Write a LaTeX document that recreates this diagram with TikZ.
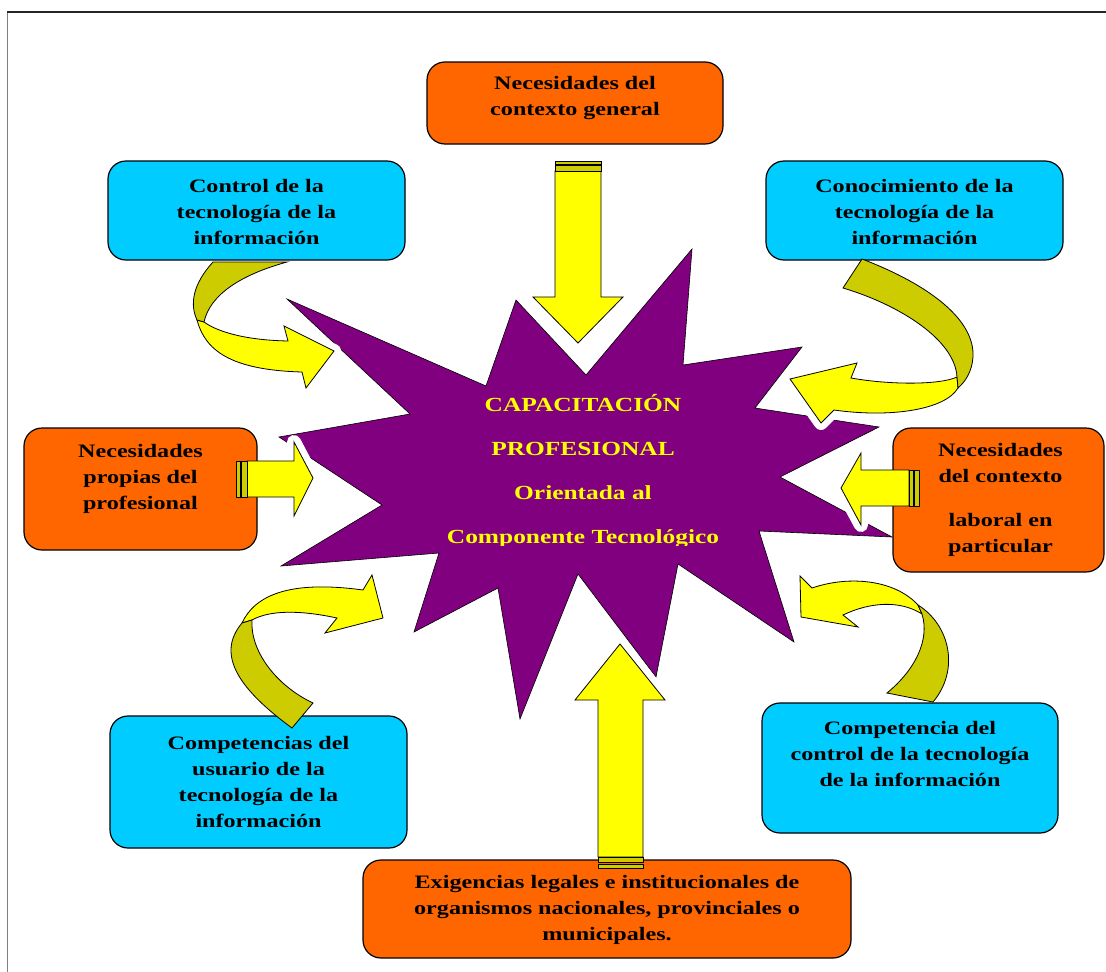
\documentclass[tikz,border=0pt]{standalone}
\usepackage{fontspec}
\setmainfont{Liberation Serif}[FakeStretch=1.27]
\usetikzlibrary{positioning,calc}
\definecolor{naranja}{HTML}{FF6600}
\definecolor{celeste}{HTML}{00CCFF}
\definecolor{morado}{HTML}{800080}
\definecolor{amarillo}{HTML}{FFFF00}
\definecolor{oliva}{HTML}{CCCC00}

\tikzset{
  caja/.style={draw=black, line width=1.2pt, rounded corners=18pt, inner sep=0pt},
  texto/.style={align=center, font=\bfseries\fontsize{19}{26}\selectfont},
  halo/.style={draw=white, line width=14pt, line join=round},
  flecha/.style={fill=amarillo, draw=black, line width=0.8pt},
  cinta/.style={fill=oliva, draw=black, line width=0.8pt},
}

\begin{document}
\begin{tikzpicture}[x=1pt, y=-1pt]
  \useasboundingbox (0,0) rectangle (1106,972);
  \draw[gray, line width=1pt] (7,12) -- (7,972);
  \draw[black!85, line width=1.2pt] (7,12) -- (1106,12);

  % estrella central
  \fill[morado, draw=black, line width=0.6pt] (287,299) -- (486,386) -- (516,300) -- (586,375)
    -- (692,249) -- (683,365) -- (802,347) -- (755,408) -- (879,427) -- (780,477)
    -- (892,537) -- (759,531) -- (794,642) -- (678,564) -- (656,677) -- (578,574)
    -- (520,719) -- (498,588) -- (414,632) -- (439,553) -- (281,566) -- (382,505)
    -- (279,437) -- (410,414) -- cycle;
  \begin{scope}
    \clip (300,370) rectangle (880,545);
    \node[texto, text=amarillo, font=\bfseries\fontsize{20}{44}\selectfont] (centro) at (583,471)
      {CAPACITACIÓN\\PROFESIONAL\\Orientada al\\Componente Tecnológico};
  \end{scope}

  % flechas
  \path[save path=\fAbajo] (555,171) -- (555,297) -- (533,297) -- (578,343) -- (623,297)
    -- (601,297) -- (601,171) -- cycle;
  \path[save path=\fArriba] (598,857) -- (598,700) -- (575,700) -- (620,644) -- (665,700)
    -- (643,700) -- (643,857) -- cycle;
  \path[save path=\fIzq] (247,461) -- (294,461) -- (294,442) -- (313,478) -- (294,516)
    -- (294,497) -- (247,497) -- cycle;
  \path[save path=\fDer] (909,470) -- (861,470) -- (861,453) -- (841,488) -- (861,525)
    -- (861,506) -- (909,506) -- cycle;
  \path[save path=\cA] (213,262) .. controls (192,285) and (190,305) .. (197,320) -- (204,322)
    .. controls (210,295) and (240,275) .. (287,262) -- cycle;
  \path[save path=\fA] (197,320) .. controls (205,350) and (230,370) .. (302,372) -- (306,388)
    -- (334,351) -- (284,326) -- (288,341) .. controls (240,340) and (215,330) .. (204,322) -- cycle;
  \path[save path=\cB] (862,259) .. controls (930,285) and (975,320) .. (973,357)
    .. controls (972,372) and (965,382) .. (958,388) -- (957,377)
    .. controls (955,340) and (900,305) .. (843,288) -- cycle;
  \path[save path=\fB] (958,388) .. controls (945,410) and (890,418) .. (834,410) -- (821,423)
    -- (790,379) -- (857,363) -- (851,378) .. controls (890,385) and (940,385) .. (957,377) -- cycle;
  \path[save path=\cC] (292,728) .. controls (240,690) and (215,655) .. (242,623) -- (252,620)
    .. controls (250,650) and (275,685) .. (313,703) -- cycle;
  \path[save path=\fC] (242,623) .. controls (255,595) and (290,580) .. (363,590) -- (372,575)
    -- (383,618) -- (325,633) -- (337,618) .. controls (300,610) and (270,610) .. (252,620) -- cycle;
  \path[save path=\cD] (918,605) .. controls (950,625) and (960,670) .. (933,702) -- (887,693)
    .. controls (915,670) and (930,640) .. (922,614) -- cycle;
  \path[save path=\fD] (918,605) .. controls (895,580) and (850,575) .. (812,588) -- (800,576)
    -- (801,617) -- (858,627) -- (843,615) .. controls (870,602) and (900,600) .. (922,614) -- cycle;

  \foreach \p in {\fAbajo,\fArriba,\fIzq,\fDer,\cA,\fA,\cB,\fB,\cC,\fC,\cD,\fD}
    \path[halo, use path=\p];

  % cajas
  \node[caja, fill=naranja, minimum width=296, minimum height=82] (ctxgen) at (575,103) {};
  \node[caja, fill=celeste, minimum width=297, minimum height=99] (control) at (256.5,210.5) {};
  \node[caja, fill=celeste, minimum width=297, minimum height=99] (conoc) at (914.5,210.5) {};
  \node[caja, fill=naranja, minimum width=233, minimum height=122] (propias) at (140.5,489) {};
  \node[caja, fill=naranja, minimum width=211, minimum height=144] (laboral) at (998.5,500) {};
  \node[caja, fill=celeste, minimum width=297, minimum height=132] (usuario) at (258.5,782) {};
  \node[caja, fill=celeste, minimum width=296, minimum height=130] (compctrl) at (910,768) {};
  \node[caja, fill=naranja, minimum width=488, minimum height=98] (exig) at (607,909) {};

  \node[texto] (tctxgen) at ([yshift=5pt]ctxgen) {Necesidades del\\contexto general};
  \node[texto] (tcontrol) at ([yshift=-1pt]control) {Control de la\\tecnología de la\\información};
  \node[texto] (tconoc) at ([yshift=-1pt]conoc) {Conocimiento de la\\tecnología de la\\información};
  \node[texto] (tpropias) at ([yshift=10pt]propias) {Necesidades\\propias del\\profesional};
  \node[texto] (tlaboral) at ([xshift=2pt]laboral) {Necesidades\\del contexto\\[18pt]laboral en\\particular};
  \node[texto] (tusuario) at (usuario) {Competencias del\\usuario de la\\tecnología de la\\información};
  \node[texto] (tcompctrl) at ([yshift=14pt]compctrl) {Competencia del\\control de la tecnología\\de la información};
  \node[texto] (texig) at ([yshift=-1pt]exig) {Exigencias legales e institucionales de\\organismos nacionales, provinciales o\\municipales.};

  \foreach \p in {\fAbajo,\fArriba,\fIzq,\fDer,\fA,\fB,\fC,\fD}
    \path[flecha, use path=\p];
  \foreach \p in {\cA,\cB,\cC,\cD}
    \path[cinta, use path=\p];

  % franjas
  \draw[flecha, fill=amarillo!80!black] (555,161) rectangle (601,164) (555,165) rectangle (601,171);
  \draw[flecha, fill=amarillo!80!black] (598,857) rectangle (643,862) (598,864) rectangle (643,868);
  \draw[flecha, fill=amarillo!80!black] (236,461) rectangle (240,497) (241,461) rectangle (247,497);
  \draw[flecha, fill=amarillo!80!black] (909,470) rectangle (913,506) (914,470) rectangle (919,506);
\end{tikzpicture}
\end{document}
